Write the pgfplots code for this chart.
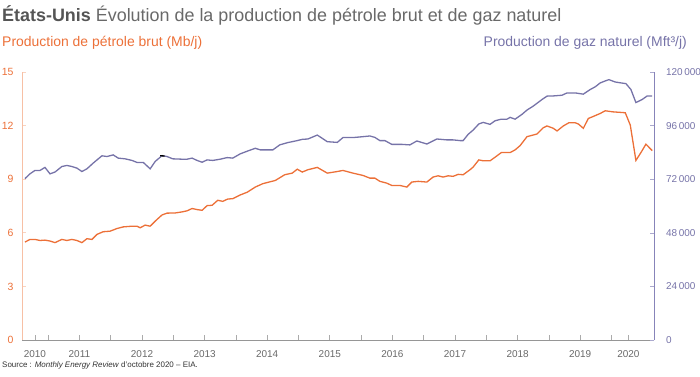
\documentclass[border=0pt]{standalone}
\usepackage{fontspec}
\setmainfont{Liberation Sans}
\usepackage{pgfplots}
\pgfplotsset{compat=1.18}
\definecolor{oil}{RGB}{236,112,56}
\definecolor{gas}{RGB}{118,115,168}
\definecolor{oilax}{RGB}{247,192,165}
\definecolor{gasax}{RGB}{135,132,185}
\definecolor{txt}{RGB}{105,105,105}
\definecolor{dtxt}{RGB}{85,85,85}
\definecolor{xax}{RGB}{150,150,150}
\begin{document}
\begin{tikzpicture}
\useasboundingbox (-22bp,-37bp) rectangle (678bp,340bp);
\begin{axis}[
  at={(0,0)}, anchor=south west, scale only axis,
  width=632bp, height=268bp,
  xmin=2010.583, xmax=2020.679, ymin=0, ymax=15,
  axis x line*=bottom, axis y line*=left,
  x axis line style={draw=xax,-}, y axis line style={draw=oilax,line width=0.9pt,-},
  tick align=inside, major tick length=4.5bp,
  xtick={2011,2012,2013,2014,2015,2016,2017,2018,2019,2020}, xticklabels={},
  extra x ticks={2010.79,2011.5,2012.5,2013.5,2014.5,2015.5,2016.5,2017.5,2018.5,2019.5,2020.27},
  extra x tick labels={2010,2011,2012,2013,2014,2015,2016,2017,2018,2019,2020},
  extra x tick style={tick style={draw=none}},
  xtick style={draw=xax!80, line width=0.7pt},
  ytick={0,3,6,9,12,15},
  ytick style={draw=oilax!70, line width=0.6pt},
  xticklabel style={font=\fontsize{10}{12}\selectfont, text=txt, yshift=-7bp},
  yticklabel style={font=\fontsize{10.5}{12}\selectfont, text=oil, xshift=-5bp},
  /pgf/number format/assume math mode=true,
]
\addplot[oil, line width=1.3bp] table {
2010.63 5.48
2010.71 5.63
2010.79 5.63
2010.87 5.57
2010.95 5.59
2011.03 5.54
2011.11 5.45
2011.22 5.63
2011.30 5.57
2011.38 5.63
2011.46 5.57
2011.54 5.45
2011.62 5.67
2011.70 5.63
2011.78 5.91
2011.88 6.06
2011.99 6.09
2012.10 6.24
2012.20 6.33
2012.34 6.37
2012.42 6.37
2012.47 6.28
2012.55 6.43
2012.63 6.37
2012.71 6.65
2012.82 7.00
2012.90 7.10
2013.03 7.11
2013.14 7.17
2013.22 7.23
2013.30 7.36
2013.38 7.30
2013.46 7.26
2013.54 7.52
2013.62 7.54
2013.71 7.82
2013.79 7.76
2013.87 7.89
2013.95 7.91
2014.07 8.12
2014.18 8.27
2014.31 8.56
2014.43 8.75
2014.63 8.93
2014.78 9.25
2014.90 9.34
2014.98 9.56
2015.06 9.40
2015.15 9.53
2015.30 9.66
2015.46 9.34
2015.62 9.43
2015.71 9.49
2015.87 9.34
2016.03 9.21
2016.14 9.06
2016.22 9.06
2016.30 8.88
2016.41 8.78
2016.49 8.65
2016.62 8.65
2016.73 8.56
2016.81 8.84
2016.91 8.88
2017.05 8.84
2017.15 9.12
2017.23 9.19
2017.31 9.12
2017.39 9.19
2017.47 9.16
2017.55 9.27
2017.63 9.25
2017.74 9.53
2017.79 9.68
2017.88 10.08
2017.95 10.03
2018.06 10.03
2018.14 10.23
2018.24 10.49
2018.38 10.49
2018.46 10.64
2018.54 10.88
2018.65 11.38
2018.81 11.53
2018.91 11.88
2018.97 11.98
2019.07 11.85
2019.13 11.70
2019.23 11.98
2019.32 12.16
2019.42 12.16
2019.47 12.09
2019.55 11.85
2019.63 12.40
2019.70 12.50
2019.82 12.68
2019.90 12.83
2020.02 12.77
2020.14 12.74
2020.22 12.72
2020.30 12.03
2020.39 10.05
2020.47 10.49
2020.55 10.96
2020.65 10.60
};
\end{axis}
\begin{axis}[
  at={(0,0)}, anchor=south west, scale only axis,
  width=632bp, height=268bp,
  xmin=2010.583, xmax=2020.679, ymin=0, ymax=120000,
  axis x line=none, axis y line*=right,
  y axis line style={draw=gasax,line width=0.9pt,-},
  tick align=inside, major tick length=4.5bp,
  ytick={0,24000,48000,72000,96000,120000},
  ytick style={draw=gasax!70, line width=0.6pt},
  scaled y ticks=false,
  yticklabel style={font=\fontsize{10}{12}\selectfont, text=gas, xshift=8.5bp,
    /pgf/number format/.cd, fixed, precision=0, 1000 sep={\thinspace}, assume math mode=true},
]
\addplot[gas, line width=1.3bp] table {
2010.63 72240
2010.71 74400
2010.79 75920
2010.87 75920
2010.95 77280
2011.03 74400
2011.11 75200
2011.22 77680
2011.30 78160
2011.38 77680
2011.46 76960
2011.54 75440
2011.62 76640
2011.72 79200
2011.86 82480
2011.94 82160
2012.04 82880
2012.12 81440
2012.23 81120
2012.34 80400
2012.42 79520
2012.52 79520
2012.63 76640
2012.71 79920
2012.82 82560
2012.90 82160
2012.99 81120
2013.14 80960
2013.22 80960
2013.30 81440
2013.38 80400
2013.46 79600
2013.54 80640
2013.63 80400
2013.75 80960
2013.86 81680
2013.95 81440
2014.07 83360
2014.19 84640
2014.31 85840
2014.39 85120
2014.50 85120
2014.59 85120
2014.70 87360
2014.83 88400
2014.98 89280
2015.06 89840
2015.15 90000
2015.30 91760
2015.46 88800
2015.62 88480
2015.71 90640
2015.87 90640
2016.03 91040
2016.14 91360
2016.22 90720
2016.30 89280
2016.38 89280
2016.49 87600
2016.65 87600
2016.78 87360
2016.89 89120
2017.05 87760
2017.21 90000
2017.37 89600
2017.47 89600
2017.58 89280
2017.63 89280
2017.71 92080
2017.79 94000
2017.88 96720
2017.95 97440
2018.06 96560
2018.14 98160
2018.24 98880
2018.33 98880
2018.38 99680
2018.46 98880
2018.57 101040
2018.65 102960
2018.75 104720
2018.89 107680
2018.97 109200
2019.07 109280
2019.21 109600
2019.29 110640
2019.42 110640
2019.55 110080
2019.66 112160
2019.74 113360
2019.82 115120
2019.93 116320
2019.96 116560
2020.06 115520
2020.15 115120
2020.23 114800
2020.31 112160
2020.39 106320
2020.49 107680
2020.57 109280
2020.65 109280
};
\addplot[black, line width=1.3bp] table {
2012.79 82500
2012.86 82400
};
\end{axis}
\node[anchor=base west, inner sep=0pt, text=txt, font=\fontsize{18}{21}\selectfont] at (-20bp,318bp) {{\color{dtxt}\bfseries États-Unis} Évolution de la production de pétrole brut et de gaz naturel};
\node[anchor=base west, inner sep=0pt, text=oil, font=\fontsize{14}{16}\selectfont] at (-20bp,293bp) {Production de pétrole brut (Mb/j)};
\node[anchor=base east, inner sep=0pt, text=gas, font=\fontsize{14}{16}\selectfont] at (665bp,293bp) {Production de gaz naturel (Mft³/j)};
\node[anchor=base west, inner sep=0pt, text=black!80, font=\fontsize{8}{10}\selectfont] at (-20bp,-27bp) {Source : \textit{Monthly Energy Review} d’octobre 2020 – EIA.};
\end{tikzpicture}
\end{document}
